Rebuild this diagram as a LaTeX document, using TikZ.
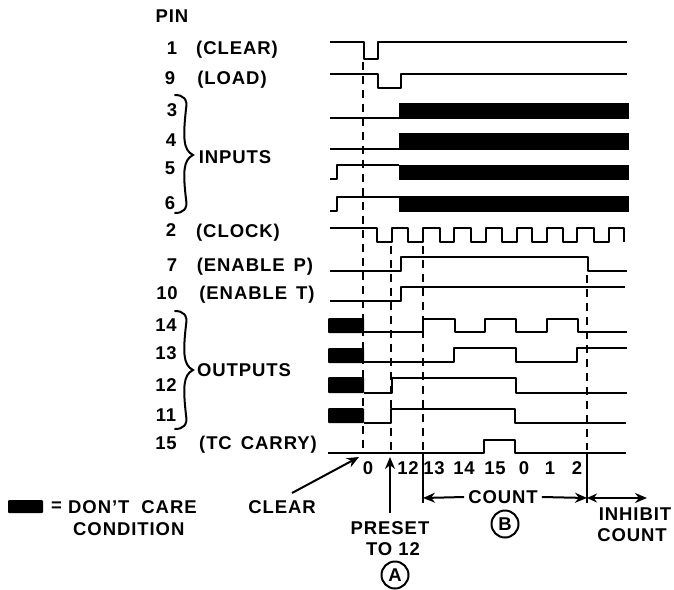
\documentclass[tikz,border=0pt]{standalone}
\usepackage{fontspec}
\setmainfont{Liberation Sans}[LetterSpace=5]
\usetikzlibrary{arrows.meta}
\tikzset{
  x=1pt,y=-1pt,
  lab/.style={inner sep=0pt,font=\fontsize{18.5}{20}\selectfont\bfseries},
  par/.style={lab,yshift=-1.5pt},
  wave/.style={line width=2pt,line join=round},
  block/.style={fill=black,draw=none},
  guide/.style={line width=2pt,dash pattern=on 8pt off 6pt},
  rule/.style={line width=2pt},
  ptr/.style={line width=2pt,-{Stealth[length=12pt,width=10pt]}},
  ptrb/.style={line width=2pt,{Stealth[length=10pt,width=9pt]}-{Stealth[length=12pt,width=10pt]}},
  brc/.style={line width=2pt,line cap=round},
  circ/.style={draw,circle,line width=2pt,inner sep=0pt,minimum size=27pt,font=\fontsize{18.5}{20}\selectfont\bfseries},
}
\newcommand{\sbrace}[3]{% top y, tip y, bottom y
  \draw[brc] (175,#1) .. controls (183,#1) and (188,{#1+4}) .. (186,{#1+14})
    .. controls (183,{#2-18}) and (183,{#2-5}) .. (193,#2)
    .. controls (183,{#2+5}) and (183,{#2+18}) .. (186,{#3-14})
    .. controls (188,{#3-4}) and (183,#3) .. (175,#3);}
\begin{document}
\begin{tikzpicture}
\useasboundingbox (0,0) rectangle (674,589);
\fill[white] (0,0) rectangle (674,589);
% black don't-care blocks
\fill[block] (399,103) rectangle (629,119);
\fill[block] (399,133) rectangle (629,150);
\fill[block] (399,165) rectangle (629,180);
\fill[block] (399,196) rectangle (629,212);
\fill[block,rounded corners=1pt] (328,318) rectangle (364,333);
\fill[block,rounded corners=1pt] (328,348) rectangle (364,363);
\fill[block,rounded corners=1pt] (328,377) rectangle (364,393);
\fill[block,rounded corners=1pt] (328,408) rectangle (364,423);
\fill[block,rounded corners=1pt] (8,500) rectangle (43,513);
% waveforms
\draw[wave] (330,42)-|(364,59)-|(378,42)--(627,42);
\draw[wave] (330,74)-|(378,88)-|(401,74)--(627,74);
\draw[wave] (330,118)--(399,118);
\draw[wave] (330,149)--(399,149);
\draw[wave] (330,179)-|(337,165)--(399,165);
\draw[wave] (330,211)-|(337,197)--(399,197);
\draw[wave] (330,228)-|(377,242)-|(392,228)-|(408,242)-|(423,228)-|(440,242)-|(454,228)-|(471,242)-|(486,228)-|(502,242)-|(517,228)-|(532,242)-|(547,228)-|(563,242)-|(577,228)-|(594,242)-|(609,228)-|(624,242);
\draw[wave] (330,271)-|(401,257)-|(588,271)--(627,271);
\draw[wave] (330,301)-|(401,287)--(625,287);
\draw[wave] (364,332)-|(423,319)-|(455,332)-|(485,319)-|(516,332)-|(547,319)-|(578,332)--(627,332);
\draw[wave] (364,362)-|(454,348)-|(516,362)-|(577,348)--(627,348);
\draw[wave] (364,393)-|(392,378)-|(516,393)--(627,393);
\draw[wave] (364,423)-|(391,409)-|(515,423)--(626,423);
\draw[wave] (328,453)-|(484,440)-|(515,453)--(626,453);
% named guide points
\coordinate (g0t) at (363,62); \coordinate (g0b) at (363,450);
\coordinate (g1t) at (391,246); \coordinate (g1b) at (391,450);
\coordinate (g2t) at (423,246); \coordinate (g2b) at (423,450);
\coordinate (g3t) at (587,275); \coordinate (g3b) at (587,450);
\coordinate (t2a) at (423,453); \coordinate (t2b) at (423,503);
\coordinate (t3a) at (587,453); \coordinate (t3b) at (587,503);
\draw[guide] (g0t)--(g0b);
\draw[guide] (g1t)--(g1b);
\draw[guide] (g2t)--(g2b);
\draw[guide] (g3t)--(g3b);
\draw[rule] (t2a)--(t2b);
\draw[rule] (t3a)--(t3b);
% pin labels
\node[lab] (pin) at (172,16) {PIN};
\node[lab] (p1) at (172,48) {1};
\node[par] (n1) at (237,48) {(CLEAR)};
\node[lab] (p9) at (170,78) {9};
\node[par] (n9) at (232,78) {(LOAD)};
\node[lab] (p3) at (172,110) {3};
\node[lab] (p4) at (171,140) {4};
\node[lab] (p5) at (170,168) {5};
\node[lab] (p6) at (170,203) {6};
\node[lab] (inp) at (235,157) {INPUTS};
\node[lab] (p2) at (171,230) {2};
\node[par] (n2) at (238,231) {(CLOCK)};
\node[lab] (p7) at (172,265) {7};
\node[par] (n7) at (255,265) {(ENABLE\hspace{3pt} P)};
\node[lab] (p10) at (167,293) {10};
\node[par] (n10) at (257,293) {(ENABLE\hspace{3pt} T)};
\node[lab] (p14) at (166,325) {14};
\node[lab] (p13) at (166,353) {13};
\node[lab] (p12) at (166,385) {12};
\node[lab] (p11) at (166,415) {11};
\node[lab] (p15) at (166,443) {15};
\node[par] (n15) at (258,443) {(TC\hspace{3pt} CARRY)};
\node[lab] (outp) at (244,370) {OUTPUTS};
\sbrace{95}{155}{213}
\sbrace{311}{370}{429}
% count numbers
\node[lab] (c0) at (368,468) {0};
\node[lab] (c12) at (408,468) {12};
\node[lab] (c13) at (434,468) {13};
\node[lab] (c14) at (464,468) {14};
\node[lab] (c15) at (495,468) {15};
\node[lab] (c0b) at (524,468) {0};
\node[lab] (c1) at (550,468) {1};
\node[lab] (c2) at (577,468) {2};
% legend and notes
\node[lab,anchor=west] (eq) at (51,507) {=};
\node[lab,anchor=west] (dc) at (68,507) {DON'T\hspace{12pt}CARE};
\node[lab,anchor=west] (cond) at (73,529) {CONDITION};
\node[lab] (clr) at (282,507) {CLEAR};
\node[lab] (pre) at (390,528) {PRESET};
\node[lab] (to12) at (393,549) {TO 12};
\node[circ] (A) at (395,575) {A};
\node[lab] (cnt) at (503,497) {COUNT};
\node[circ] (B) at (505,524) {B};
\node[lab] (inh) at (635,514) {INHIBIT};
\node[lab] (cnt2) at (632,535) {COUNT};
% arrows
\coordinate (clrs) at (292,493); \coordinate (clre) at (359,457);
\coordinate (pres) at (390,513); \coordinate (pree) at (390,457);
\coordinate (cl) at (423,498); \coordinate (cr) at (587,498); \coordinate (ir) at (647,498);
\draw[ptr] (clrs)--(clre);
\draw[ptr] (pres)--(pree);
\draw[ptr] (cnt.west)++(-4,0)--(cl);
\draw[ptr] (cnt.east)++(4,0)--(cr);
\draw[ptrb] (cr)--(ir);
\end{tikzpicture}
\end{document}
